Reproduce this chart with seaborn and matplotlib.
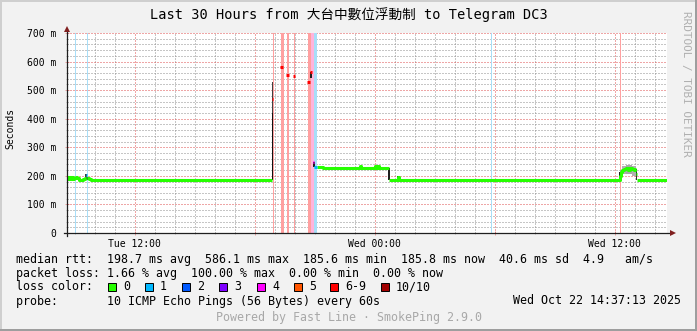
import numpy as np
import pandas as pd
import matplotlib
matplotlib.use("Agg")
import matplotlib.pyplot as plt
import seaborn as sns
from matplotlib.lines import Line2D
from matplotlib.patches import Rectangle

# ---------------- data ----------------
title = "Last 30 Hours from 大台中數位浮動制 to Telegram DC3"
x_range = [8.62, 38.62]                # hours since Tue 00:00
x_label_pos = [12, 18, 24, 30, 36]
x_label_txt = ["Tue 12:00", "", "Wed 00:00", "", "Wed 12:00"]
y_ticks = [0, 100, 200, 300, 400, 500, 600, 700]
y_tick_labels = ["0", "100 m", "200 m", "300 m", "400 m", "500 m", "600 m", "700 m"]

# median rtt (ms) as steps: start hour, value, loss class
med_t = [8.62, 8.68, 8.74, 8.80, 8.86, 8.92, 8.98, 9.05, 9.12, 9.20, 9.30, 9.40, 9.50,
         9.56, 9.64, 9.72, 9.80,
         18.86, 18.94, 19.28, 19.41, 19.58, 19.70, 19.92, 20.04, 20.63, 20.75, 20.79, 20.89,
         20.92, 20.97, 21.10, 21.40, 23.28, 23.33, 24.03, 24.08, 24.18, 24.23,
         24.70, 25.15, 25.20,
         36.25, 36.30, 36.35, 36.45, 36.55, 36.65, 36.75, 36.85, 36.95, 37.00, 37.05, 37.10]
med_ms = [195, 190, 197, 189, 196, 188, 194, 197, 191, 187, 186, 188, 192,
          202, 191, 188, 186,
          468, np.nan, 581, np.nan, 553, np.nan, 549, np.nan, 530, np.nan, 565, np.nan,
          249, 232, 230, 228, 236, 228, 233, 228, 233, 228,
          186, 196, 186,
          200, 214, 220, 224, 226, 222, 227, 225, 219, 224, 205, 186]
med_loss = ["0"] * 13 + ["1", "0", "0", "0"] + \
           ["6-9", "10/10"] * 6 + \
           ["4", "1", "0", "0", "0", "0", "0", "0", "0", "0"] + \
           ["0"] * 3 + ["0"] * 12
med_end = 38.62

# smoke (ping spread): start, end, low, high, shade
smoke_t0 = [8.66, 8.80, 8.92, 9.05, 9.52, 9.64, 18.86, 18.86, 20.79, 20.94, 24.69, 25.14,
            36.24, 36.28, 36.35, 36.55, 36.85, 37.05]
smoke_t1 = [8.70, 8.84, 8.96, 9.09, 9.60, 9.68, 18.935, 18.935, 20.86, 21.00, 24.75, 25.20,
            36.28, 36.35, 36.55, 36.85, 37.05, 37.13]
smoke_lo = [186, 186, 187, 188, 190, 186, 186, 420, 541, 232, 186, 186,
            186, 195, 205, 208, 200, 186]
smoke_hi = [198, 197, 196, 200, 206, 195, 420, 530, 565, 250, 226, 200,
            215, 222, 235, 238, 233, 224]
smoke_shade = ["#404040", "#404040", "#404040", "#404040", "#404040", "#404040",
               "#101010", "#404040", "#202020", "#202020", "#202020", "#202020",
               "#202020", "#a0a0a0", "#b0b0b0", "#a8a8a8", "#b0b0b0", "#303030"]

# packet-loss background bars
band_t0 = [9.00, 9.60, 18.90, 19.30, 19.635, 19.975, 20.675, 20.815, 20.975, 29.80, 36.25]
band_t1 = [9.065, 9.665, 18.965, 19.45, 19.70, 20.04, 20.815, 20.965, 21.125, 29.875, 36.30]
band_loss = ["1", "1", "6-9", "6-9", "6-9", "6-9", "6-9", "4", "1", "1", "6-9"]

loss_levels = ["0", "1", "2", "3", "4", "5", "6-9", "10/10"]
loss_colors = ["#26ff00", "#00b8ff", "#0059ff", "#7e00ff", "#ff00ff", "#ff5500", "#ff0000", "#a10000"]
band_colors = {"1": "#a8def8", "4": "#ffb4dc", "6-9": "#ffa0a0"}

legend_rows = [
    "median rtt:  198.7 ms avg  586.1 ms max  185.6 ms min  185.8 ms now  40.6 ms sd  4.9   am/s",
    "packet loss: 1.66 % avg  100.00 % max  0.00 % min  0.00 % now",
    "loss color:",
    "probe:       10 ICMP Echo Pings (56 Bytes) every 60s",
]
stamp = "Wed Oct 22 14:37:13 2025"
footer = "Powered by Fast Line · SmokePing 2.9.0"
watermark = "RRDTOOL / TOBI OETIKER"

# ---------------- style ----------------
W, H = 697, 331
plt.rcParams["font.family"] = ["DejaVu Sans Mono", "Noto Sans CJK TC"]
BG = "#f2f2f2"
GRID = (0.56, 0.56, 0.56, 0.6)
MGRID = (0.87, 0.31, 0.31, 0.5)
AXIS = "#1f1f1f"
ARROW = "#801f1f"

fig = plt.figure(figsize=(W / 100, H / 100), dpi=100, facecolor=BG)
ax = fig.add_axes([67 / W, 98 / H, 600 / W, 200 / H], facecolor="white")

# loss bars
for t0, t1, l in zip(band_t0, band_t1, band_loss):
    ax.axvspan(t0, t1, color=band_colors[l], lw=0, zorder=1.5)

# smoke
for t0, t1, lo, hi, c in zip(smoke_t0, smoke_t1, smoke_lo, smoke_hi, smoke_shade):
    ax.fill_between([t0, t1], [lo, lo], [hi, hi], color=c, lw=0, zorder=2)

# median line segments
rows = []
seg = 0
prev_v, prev_l = None, None
for i, (t, v, l) in enumerate(zip(med_t, med_ms, med_loss)):
    t_next = med_t[i + 1] if i + 1 < len(med_t) else med_end
    if np.isnan(v):
        prev_v = None
        continue
    if prev_v is None or l != prev_l or abs(v - prev_v) > 15:
        seg += 1
    rows.append((seg, t, v, l))
    rows.append((seg, t_next, v, l, "end"))
    prev_v, prev_l = v, l
final = []
for i, r in enumerate(rows):
    if len(r) == 5:
        nxt = rows[i + 1] if i + 1 < len(rows) else None
        if nxt is not None and len(nxt) == 4 and nxt[0] == r[0]:
            continue
        final.append(r[:4])
    else:
        final.append(r)
med_df = pd.DataFrame(final, columns=["seg", "t", "ms", "loss"])

sns.lineplot(data=med_df, x="t", y="ms", units="seg", estimator=None, hue="loss",
             palette=dict(zip(loss_levels, loss_colors)), drawstyle="steps-post",
             linewidth=2.2, legend=False, ax=ax, zorder=3, solid_capstyle="butt")

# axes & grid
ax.set_xlim(*x_range)
ax.set_ylim(0, 700)
for s in ax.spines.values():
    s.set_visible(False)
ax.set_xticks(x_label_pos)
ax.set_xticklabels(x_label_txt)
ax.set_xticks(np.arange(9, 39, 1), minor=True)
ax.set_yticks(y_ticks)
ax.set_yticklabels(y_tick_labels)
ax.set_yticks(np.arange(0, 701, 20), minor=True)
ax.set_axisbelow(True)
ax.grid(which="minor", color=GRID, lw=0.72, linestyle=(0, (1, 2)))
ax.grid(which="major", color=MGRID, lw=0.72, linestyle=(0, (1, 2)))
ax.tick_params(which="major", length=3, width=0.7, direction="inout", colors=MGRID,
               labelcolor="black", labelsize=7, pad=3)
ax.tick_params(which="minor", length=2, width=0.7, direction="inout", colors=GRID)
ax.tick_params(axis="y", which="major", pad=6)
ax.set_xlabel("")
ax.set_ylabel("")

# axis lines with arrows
ax.plot([-3 / 600, 1 + 5 / 600], [0, 0], transform=ax.transAxes, color=AXIS, lw=0.9,
        clip_on=False, zorder=5)
ax.plot([0, 0], [-3 / 200, 1 + 3 / 200], transform=ax.transAxes, color=AXIS, lw=0.9,
        clip_on=False, zorder=5)
ax.plot([1 + 6 / 600], [0], marker=">", ms=4, color=ARROW, transform=ax.transAxes,
        clip_on=False, zorder=6, mew=0)
ax.plot([0], [1 + 4 / 200], marker="^", ms=4, color=ARROW, transform=ax.transAxes,
        clip_on=False, zorder=6, mew=0)

def px(x, y):
    return x / W, 1 - y / H

# texts
fig.text(*px(348.5, 15), title, ha="center", va="center", fontsize=9.8)
fig.text(*px(10.5, 128), "Seconds", rotation=90, ha="center", va="center", fontsize=7)
fig.text(*px(686, 84), watermark, rotation=270, ha="center", va="center",
         fontsize=7.9, color="#b0b0b0")
for i, line in enumerate(legend_rows):
    fig.text(*px(16, 259 + 14 * i), line, ha="left", va="center", fontsize=8.37)
fig.text(*px(681, 301), stamp, ha="right", va="center", fontsize=8.37)
fig.text(*px(348.5, 318), footer, ha="center", va="center", fontsize=8.37, color="#a8a8a8")

box_x = [108, 145, 182, 219, 257, 294, 330, 381]
for bx, lab, col in zip(box_x, loss_levels, loss_colors):
    fig.add_artist(Rectangle((bx / W, 1 - 291 / H), 8 / W, 8 / H, transform=fig.transFigure,
                             facecolor=col, edgecolor="black", lw=0.7))
    fig.text(*px(bx + 15, 287), lab, ha="left", va="center", fontsize=8.37)

# image border (shade)
fig.add_artist(Line2D([0, 1], [1 - 1 / H, 1 - 1 / H], transform=fig.transFigure, color="#cfcfcf", lw=1.44))
fig.add_artist(Line2D([1 / W, 1 / W], [0, 1], transform=fig.transFigure, color="#cfcfcf", lw=1.44))
fig.add_artist(Line2D([0, 1], [1 / H, 1 / H], transform=fig.transFigure, color="#9e9e9e", lw=1.44))
fig.add_artist(Line2D([1 - 1 / W, 1 - 1 / W], [0, 1], transform=fig.transFigure, color="#9e9e9e", lw=1.44))

fig.savefig("out.png", dpi=100, facecolor=BG)
